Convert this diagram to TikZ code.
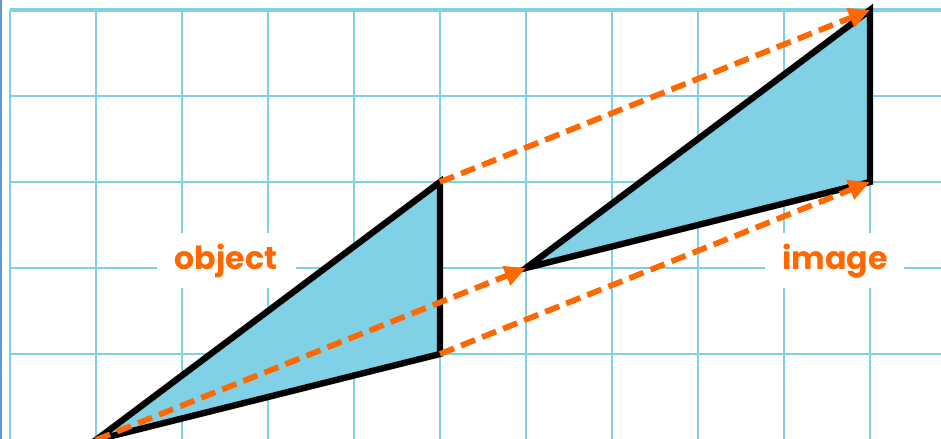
\documentclass[tikz,border=0pt]{standalone}
\usepackage{fontspec}
\setmainfont{Poppins}
\usetikzlibrary{arrows.meta}
\definecolor{gridc}{RGB}{128,208,230}
\definecolor{fillc}{RGB}{128,208,230}
\definecolor{orng}{RGB}{255,104,0}
\definecolor{edgebar}{RGB}{91,155,213}
\begin{document}
\begin{tikzpicture}[x=1cm,y=1cm,
  gridline/.style={draw=gridc,line width=0.7pt},
  tri/.style={draw=black,line width=2.1pt,fill=fillc,line join=miter},
  maparrow/.style={draw=orng,line width=1.9pt,dash pattern=on 5pt off 2.5pt,-{Triangle[length=7pt,width=6.5pt]}},
  lbl/.style={fill=white,text=orng,font=\fontsize{10.5}{12}\selectfont\bfseries,minimum width=46pt,minimum height=18pt,inner sep=0pt}]
\useasboundingbox (-0.1163,0.1163) rectangle (10.826,-4.988);
\clip (-0.1163,0.1163) rectangle (10.826,-4.988);
% grid
\foreach \i in {0,...,10} \draw[gridline] (\i,0) -- (\i,-4.988);
\foreach \j in {1,...,4} \draw[gridline] (0,-\j) -- (10.826,-\j);
\draw[gridline,line width=1.2pt] (0,0) -- (10.826,0);
\fill[edgebar] (-0.1163,0.1163) rectangle (-0.093,-4.988);
% labels
\node[lbl] (objlbl) at (2.512,-2.915) {object};
\node[lbl] (imglbl) at (9.593,-2.915) {image};
% vertices
\coordinate (o1) at (1,-5);
\coordinate (o2) at (5,-2);
\coordinate (o3) at (5,-4);
\coordinate (i1) at (6,-3);
\coordinate (i2) at (10,0);
\coordinate (i3) at (10,-2);
% triangles
\draw[tri] (o1) -- (o2) -- (o3) -- cycle;
\draw[tri] (i1) -- (i2) -- (i3) -- cycle;
% translation arrows
\draw[maparrow] (o1) -- (i1);
\draw[maparrow] (o2) -- (i2);
\draw[maparrow] (o3) -- (i3);
\end{tikzpicture}
\end{document}
